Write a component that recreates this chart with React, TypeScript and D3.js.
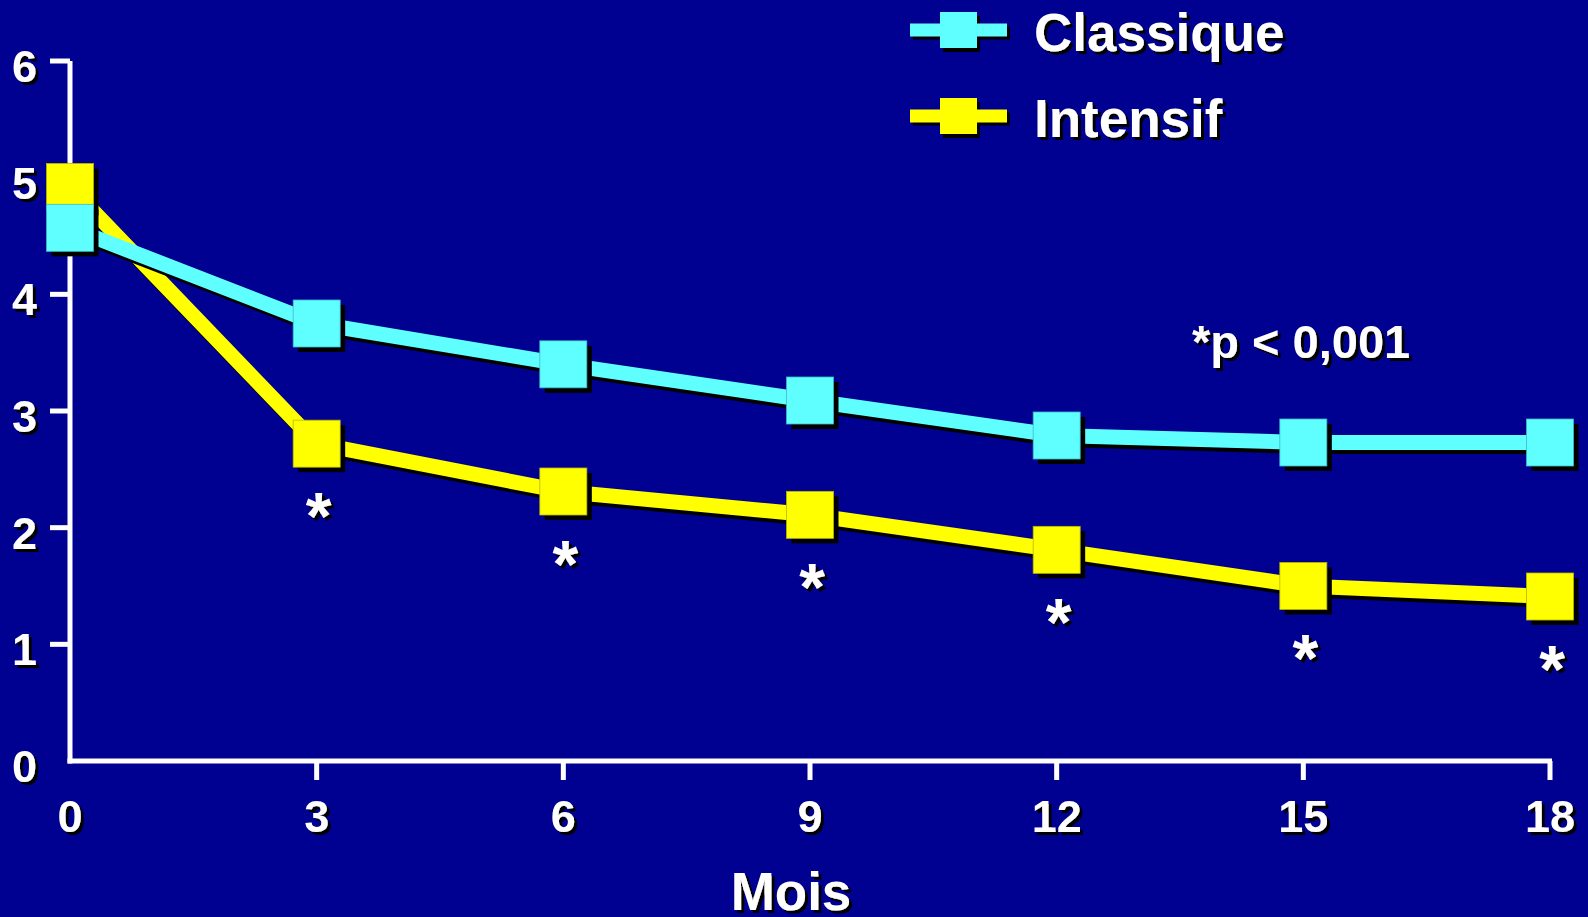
import React from "react";
import * as d3 from "d3";

const months = [0, 3, 6, 9, 12, 15, 18];
const classique = [4.57, 3.75, 3.4, 3.09, 2.79, 2.73, 2.73];
const intensif = [4.92, 2.72, 2.31, 2.11, 1.81, 1.5, 1.41];
const starMonths = [3, 6, 9, 12, 15, 18];
const yTicks = [0, 1, 2, 3, 4, 5, 6];
const xTicks = [0, 3, 6, 9, 12, 15, 18];
const seriesNames = ["Classique", "Intensif"];

const W = 1588;
const H = 917;
const BG = "#000091";
const CYAN = "#60FFFF";
const YELLOW = "#FFFF00";
const FONT = "'Liberation Sans', Arial, sans-serif";

export default function App() {
  const x = d3.scaleLinear().domain([0, 18]).range([70, 1550]);
  const y = d3.scaleLinear().domain([0, 6]).range([761, 61]);
  const line = d3
    .line<number>()
    .x((_, i) => x(months[i]))
    .y((d) => y(d));

  const M = 47;
  const SH = 5;

  const series = [
    { vals: intensif, color: YELLOW },
    { vals: classique, color: CYAN },
  ];

  const intensifByMonth = new Map(months.map((m, i) => [m, intensif[i]]));

  return (
    <svg
      width={W}
      height={H}
      style={{ position: "absolute", left: 0, top: 0, display: "block" }}
    >
      <defs>
        <filter id="ts" x="-20%" y="-20%" width="150%" height="150%">
          <feDropShadow dx="3" dy="3" stdDeviation="0.3" floodColor="#000" floodOpacity="1" />
        </filter>
      </defs>
      <rect x={0} y={0} width={W} height={H} fill={BG} />

      {/* axes */}
      <g stroke="#fff" strokeWidth={5} fill="none">
        <line x1={x(0)} y1={y(6)} x2={x(0)} y2={y(0) + 2.5} />
        <line x1={x(0) - 2.5} y1={y(0)} x2={x(18) + 2} y2={y(0)} />
        {yTicks.filter((t) => t > 0).map((t) => (
          <line key={"yt" + t} x1={50} y1={y(t)} x2={x(0)} y2={y(t)} />
        ))}
        {xTicks.filter((t) => t > 0).map((t) => (
          <line key={"xt" + t} x1={x(t)} y1={y(0)} x2={x(t)} y2={y(0) + 19} />
        ))}
      </g>

      {/* tick labels */}
      <g fill="#fff" fontFamily={FONT} fontWeight="bold" fontSize={45} filter="url(#ts)">
        {yTicks.map((t) => (
          <text key={"yl" + t} x={37} y={y(t) + 21} textAnchor="end">
            {t}
          </text>
        ))}
        {xTicks.map((t) => (
          <text key={"xl" + t} x={x(t)} y={832} textAnchor="middle">
            {t}
          </text>
        ))}
        <text x={791} y={910} textAnchor="middle" fontSize={53}>
          Mois
        </text>
        <text x={1192} y={358} fontSize={47}>
          *p &lt; 0,001
        </text>
      </g>

      {/* series */}
      {series.map((s, si) => (
        <g key={"s" + si}>
          <path
            d={line(s.vals) || ""}
            transform="translate(3,4)"
            stroke="#000"
            strokeWidth={15}
            fill="none"
            strokeLinejoin="round"
          />
          <path
            d={line(s.vals) || ""}
            stroke={s.color}
            strokeWidth={15}
            fill="none"
            strokeLinejoin="round"
          />
          {s.vals.map((v, i) => (
            <rect
              key={"sh" + i}
              x={x(months[i]) - M / 2 + SH}
              y={y(v) - M / 2 + SH}
              width={M}
              height={M}
              fill="#000"
            />
          ))}
          {s.vals.map((v, i) => (
            <rect
              key={"m" + i}
              x={x(months[i]) - M / 2}
              y={y(v) - M / 2}
              width={M}
              height={M}
              fill={s.color}
              stroke={si === 0 ? "#b8b800" : "#3fb8c8"}
              strokeWidth={0.8}
            />
          ))}
        </g>
      ))}

      {/* stars */}
      <g fill="#fff" fontFamily={FONT} fontWeight="bold" fontSize={66} filter="url(#ts)">
        {starMonths.map((m) => (
          <text
            key={"st" + m}
            x={x(m) + 2}
            y={y(intensifByMonth.get(m) as number) + 63 + 32}
            textAnchor="middle"
          >
            *
          </text>
        ))}
      </g>

      {/* legend */}
      {[CYAN, YELLOW].map((c, i) => {
        const cy = i === 0 ? 30 : 116;
        return (
          <g key={"lg" + i}>
            <rect x={913} y={cy - 6.5 + 3} width={97} height={13} fill="#000" />
            <rect x={943} y={cy - 18 + 4} width={37} height={36} fill="#000" />
            <rect x={910} y={cy - 6.5} width={97} height={13} fill={c} />
            <rect x={940} y={cy - 18} width={37} height={36} fill={c} />
            <text
              x={1034}
              y={cy + 21}
              fill="#fff"
              fontFamily={FONT}
              fontWeight="bold"
              fontSize={53}
              filter="url(#ts)"
            >
              {seriesNames[i]}
            </text>
          </g>
        );
      })}
    </svg>
  );
}
